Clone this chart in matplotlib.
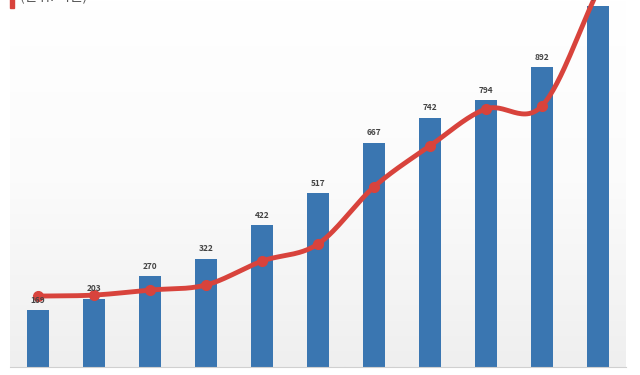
import numpy as np
import matplotlib.pyplot as plt

plt.rcParams['font.family'] = ['Noto Sans CJK KR', 'DejaVu Sans']

positions = list(range(11))
bar_values = [169, 203, 270, 322, 422, 517, 667, 742, 794, 892, 1074]
bar_labels = ['169', '203', '270', '322', '422', '517', '667', '742', '794', '892', '1,074']
line_values = [211, 214, 229, 244, 315, 366, 536, 658, 768, 777, 1120]

BLUE = '#3a76b1'
RED = '#d8433c'


def smooth(xs, ys, n=30):
    # catmull-rom style smoothing for drawing only
    xs = np.asarray(xs, float)
    ys = np.asarray(ys, float)
    px = np.concatenate([[2 * xs[0] - xs[1]], xs, [2 * xs[-1] - xs[-2]]])
    py = np.concatenate([[2 * ys[0] - ys[1]], ys, [2 * ys[-1] - ys[-2]]])
    out_x, out_y = [], []
    for i in range(1, len(px) - 2):
        t = np.linspace(0, 1, n, endpoint=False)
        for arr, out in ((px, out_x), (py, out_y)):
            p0, p1, p2, p3 = arr[i - 1], arr[i], arr[i + 1], arr[i + 2]
            out.extend(0.5 * ((2 * p1) + (-p0 + p2) * t
                              + (2 * p0 - 5 * p1 + 4 * p2 - p3) * t ** 2
                              + (-p0 + 3 * p1 - 3 * p2 + p3) * t ** 3))
    out_x.append(xs[-1])
    out_y.append(ys[-1])
    return out_x, out_y


fig = plt.figure(figsize=(6.4, 3.75), dpi=100)
ax = fig.add_axes([10 / 640, 8 / 375, 616 / 640, 367 / 375])

ax.set_xlim(-0.5, 10.5)
ax.set_ylim(0, 1092)

# soft gradient background
grad = np.linspace(0, 1, 256).reshape(-1, 1)
ax.imshow(grad, extent=(-0.5, 10.5, 0, 1092), aspect='auto', origin='lower',
          cmap=plt.matplotlib.colors.LinearSegmentedColormap.from_list(
              'bg', ['#efefef', '#fbfbfb', '#ffffff']), zorder=0)

ax.bar(positions, bar_values, width=0.4, color=BLUE, zorder=2)

sx, sy = smooth(positions, line_values)
ax.plot(sx, sy, color=RED, lw=3.5, zorder=4, solid_capstyle='round')
ax.plot(positions, line_values, 'o', color=RED, ms=7, zorder=5)

for x, v, lab in zip(positions, bar_values, bar_labels):
    ax.annotate(lab, (x, v), xytext=(0, 4), textcoords='offset points',
                ha='center', va='bottom', fontsize=6, fontweight='bold',
                color='#444444', zorder=6, annotation_clip=False)

for s in ['top', 'right', 'left']:
    ax.spines[s].set_visible(False)
ax.spines['bottom'].set_color('#d0d0d0')
ax.set_xticks([])
ax.set_yticks([])

# title fragment at the very top, mostly cut off
fig.patches.append(plt.Rectangle((10 / 640, 367 / 375), 4 / 640, 10 / 375,
                                 transform=fig.transFigure, color=RED))
fig.text(20 / 640, 1.01, '(단위: 억원)', fontsize=10, color='#555555',
         ha='left', va='center')

fig.savefig('out.png', dpi=100)
